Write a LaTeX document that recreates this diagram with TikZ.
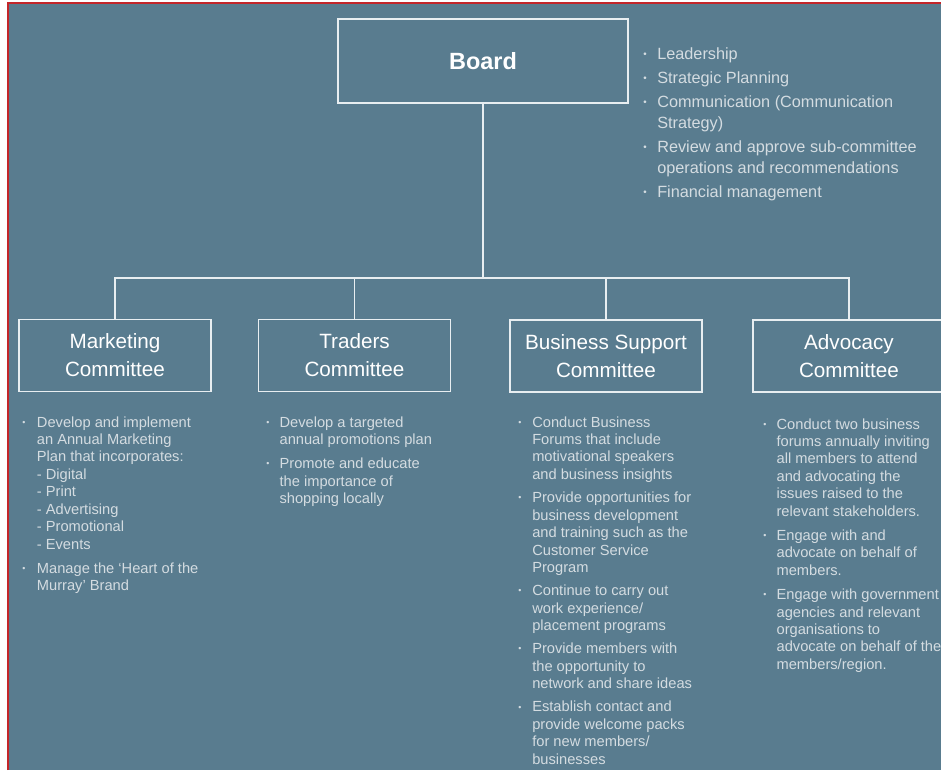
\documentclass[tikz,border=0pt]{standalone}
\usepackage{fontspec}
\setmainfont{Liberation Sans}
\usepackage{xcolor}

\definecolor{slate}{RGB}{89,124,143}
\definecolor{pale}{RGB}{212,220,225}
\definecolor{boxline}{RGB}{232,238,241}
\definecolor{frameRed}{RGB}{196,38,42}
\newcommand{\bul}{\raisebox{0.25ex}{\scalebox{0.6}{\textbullet}}}

\begin{document}
\begin{tikzpicture}[x=0.75pt,y=0.75pt,yscale=-1,xscale=1,
  box/.style={draw=boxline,line width=1.1pt,inner sep=0pt,text=white,align=center,
    font=\fontsize{15.5}{21}\selectfont,minimum width=144pt,minimum height=54pt},
  wire/.style={draw=boxline,line width=1.1pt},
  duties/.style={anchor=base west,inner sep=0pt,text=pale,font=\fontsize{11}{13.1}\selectfont}]
\useasboundingbox (0,0) rectangle (941,770);

%Background
\fill [slate] (9,4) rectangle (941,770);
%Red frame
\draw [frameRed,line width=1.5pt] (8,770) -- (8,3) -- (941,3);

%Board box
\node [box,font=\fontsize{17.6}{21}\selectfont\bfseries,minimum width=217.5pt,minimum height=63pt] (board) at (483,61) {Board};
%Committee boxes
\node [box] (mkt) at (115,355.5) {Marketing\\Committee};
\node [box] (trd) at (354.5,355.5) {Traders\\Committee};
\node [box] (bsc) at (606,356) {Business Support\\Committee};
\node [box] (adv) at (849,356) {Advocacy\\Committee};

%Tree lines
\coordinate (hub) at (483,278);
\draw [wire] (board.south) -- (hub);
\draw [wire] (hub) -| (mkt.north);
\draw [wire] (hub) -| (trd.north);
\draw [wire] (hub) -| (bsc.north);
\draw [wire] (hub) -| (adv.north);

% Text Node
\node [duties,font=\fontsize{12.2}{15.75}\selectfont] (boardDuties) at (643,60) {\begin{tabular}[t]{@{}p{10.5pt}@{}l@{}}
\bul & Leadership\\[2.25pt]
\bul & Strategic Planning\\[2.25pt]
\bul & Communication (Communication\\
 & Strategy)\\[2.25pt]
\bul & Review and approve sub-committee\\
 & operations and recommendations\\[2.25pt]
\bul & Financial management
\end{tabular}};
% Text Node
\node [duties] (mktDuties) at (22,427) {\begin{tabular}[t]{@{}p{11pt}@{}l@{}}
\bul & Develop and implement\\
 & an Annual Marketing\\
 & Plan that incorporates:\\
 & - Digital\\
 & - Print\\
 & - Advertising\\
 & - Promotional\\
 & - Events\\[5pt]
\bul & Manage the `Heart of the\\
 & Murray' Brand
\end{tabular}};
% Text Node
\node [duties] (trdDuties) at (266,427) {\begin{tabular}[t]{@{}p{10pt}@{}l@{}}
\bul & Develop a targeted\\
 & annual promotions plan\\[5pt]
\bul & Promote and educate\\
 & the importance of\\
 & shopping locally
\end{tabular}};
% Text Node
\node [duties] (bscDuties) at (518,427) {\begin{tabular}[t]{@{}p{10.5pt}@{}l@{}}
\bul & Conduct Business\\
 & Forums that include\\
 & motivational speakers\\
 & and business insights\\[4.3pt]
\bul & Provide opportunities for\\
 & business development\\
 & and training such as the\\
 & Customer Service\\
 & Program\\[4.3pt]
\bul & Continue to carry out\\
 & work experience/\\
 & placement programs\\[4.3pt]
\bul & Provide members with\\
 & the opportunity to\\
 & network and share ideas\\[4.3pt]
\bul & Establish contact and\\
 & provide welcome packs\\
 & for new members/\\
 & businesses
\end{tabular}};
% Text Node
\node [duties] (advDuties) at (763,429) {\begin{tabular}[t]{@{}p{10pt}@{}l@{}}
\bul & Conduct two business\\
 & forums annually inviting\\
 & all members to attend\\
 & and advocating the\\
 & issues raised to the\\
 & relevant stakeholders.\\[5pt]
\bul & Engage with and\\
 & advocate on behalf of\\
 & members.\\[5pt]
\bul & Engage with government\\
 & agencies and relevant\\
 & organisations to\\
 & advocate on behalf of the\\
 & members/region.
\end{tabular}};

\end{tikzpicture}
\end{document}
